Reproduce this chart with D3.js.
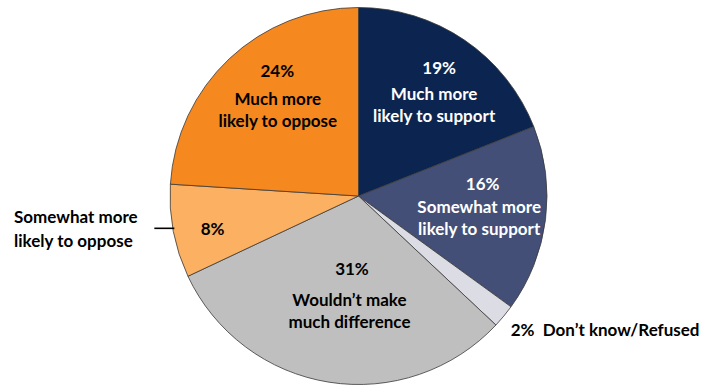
<!DOCTYPE html>
<html>
<head>
<meta charset="utf-8">
<script src="https://cdn.jsdelivr.net/npm/d3@7"></script>
<style>
  html, body { margin: 0; padding: 0; background: #ffffff; }
  svg text { font-family: Lato, "Open Sans", sans-serif; font-weight: 700; }
</style>
</head>
<body>
<svg id="chart" width="703" height="386"></svg>
<script>
// Survey response shares, clockwise from 12 o'clock
const categories = [
  "Much more likely to support",
  "Somewhat more likely to support",
  "Don’t know/Refused",
  "Wouldn’t make much difference",
  "Somewhat more likely to oppose",
  "Much more likely to oppose"
];
const shares = [19, 16, 2, 31, 8, 24];
const labelLines = [
  ["Much more", "likely to support"],
  ["Somewhat more", "likely to support"],
  ["Don’t know/Refused"],
  ["Wouldn’t make", "much difference"],
  ["Somewhat more", "likely to oppose"],
  ["Much more", "likely to oppose"]
];
const fills = ["#0b2550", "#444f77", "#dcdce4", "#bfbfbf", "#fbb062", "#f5881f"];
const textColors = ["#ffffff", "#ffffff", "#000000", "#000000", "#000000", "#000000"];

// Layout
const W = 703, H = 386;
const cx = 358.5, cy = 196, R = 188.5;
const fontSize = 17, lineGap = 21.5;

// Per-label placement: nudge from the label-arc centroid, gap below the percentage,
// small horizontal shift of the percentage line, and where the label sits.
const placement = {
  "Much more likely to support":     { mode: "inside",  nudge: [3.6, -23], gap: 26.5, pctDx: 5 },
  "Somewhat more likely to support": { mode: "inside",  nudge: [-6.5, -29], gap: 23.5, pctDx: 3.5 },
  "Don’t know/Refused":              { mode: "outside", nudge: [7, 13] },
  "Wouldn’t make much difference":   { mode: "inside",  nudge: [11, -54], gap: 31, pctDx: 2.5 },
  "Somewhat more likely to oppose":  { mode: "split",   nudge: [-20, 8] },
  "Much more likely to oppose":      { mode: "inside",  nudge: [7, -32], gap: 28, pctDx: -0.5 }
};

const rows = categories.map((c, i) => ({
  category: c, value: shares[i], lines: labelLines[i], fill: fills[i], text: textColors[i]
}));

const svg = d3.select("#chart");
svg.append("rect").attr("width", W).attr("height", H).attr("fill", "#ffffff");

const g = svg.append("g").attr("transform", `translate(${cx},${cy})`);

const pie = d3.pie().sort(null).value(d => d.value).startAngle(0).endAngle(2 * Math.PI);
const arcs = pie(rows);
const arc = d3.arc().innerRadius(0).outerRadius(R);
const labelArc = d3.arc().innerRadius(R * 0.68).outerRadius(R * 0.68);
const rimArc = d3.arc().innerRadius(R).outerRadius(R);

g.selectAll("path.slice")
  .data(arcs)
  .join("path")
  .attr("class", "slice")
  .attr("d", arc)
  .attr("fill", d => d.data.fill)
  .attr("stroke", "#3a3a3a")
  .attr("stroke-width", 0.8)
  .attr("stroke-linejoin", "round");

const fmt = v => `${v}%`;

arcs.forEach(d => {
  const p = placement[d.data.category];
  if (p.mode === "inside") {
    const [x0, y0] = labelArc.centroid(d);
    const x = x0 + p.nudge[0], y = y0 + p.nudge[1];
    const t = g.append("g").attr("fill", d.data.text).attr("font-size", fontSize).attr("text-anchor", "middle");
    t.append("text").attr("x", x + p.pctDx).attr("y", y).attr("dominant-baseline", "central").text(fmt(d.data.value));
    d.data.lines.forEach((line, k) => {
      t.append("text").attr("x", x).attr("y", y + p.gap + k * lineGap)
        .attr("dominant-baseline", "central").text(line);
    });
  } else if (p.mode === "split") {
    // percentage inside the slice, category name outside with a leader line
    const [x0, y0] = labelArc.centroid(d);
    g.append("text").attr("x", x0 + p.nudge[0]).attr("y", y0 + p.nudge[1])
      .attr("font-size", fontSize).attr("text-anchor", "middle").attr("dominant-baseline", "central")
      .attr("fill", d.data.text).text(fmt(d.data.value));
    const a = (d.startAngle + d.endAngle) / 2;
    const ex = R * Math.sin(a) + 1, ey = -R * Math.cos(a) - 3;
    g.append("line").attr("x1", ex).attr("y1", ey).attr("x2", ex - 20).attr("y2", ey)
      .attr("stroke", "#000").attr("stroke-width", 1.6);
    d.data.lines.forEach((line, k) => {
      g.append("text").attr("x", -cx + 14).attr("y", ey - 12 + k * 24)
        .attr("font-size", fontSize).attr("dominant-baseline", "central").attr("fill", "#000").text(line);
    });
  } else {
    const [x0, y0] = rimArc.centroid(d);
    g.append("text").attr("x", x0 + p.nudge[0]).attr("y", y0 + p.nudge[1])
      .attr("font-size", fontSize).attr("dominant-baseline", "central").attr("fill", "#000")
      .attr("xml:space", "preserve")
      .text(`${fmt(d.data.value)}  ${d.data.lines[0]}`);
  }
});
</script>
</body>
</html>
